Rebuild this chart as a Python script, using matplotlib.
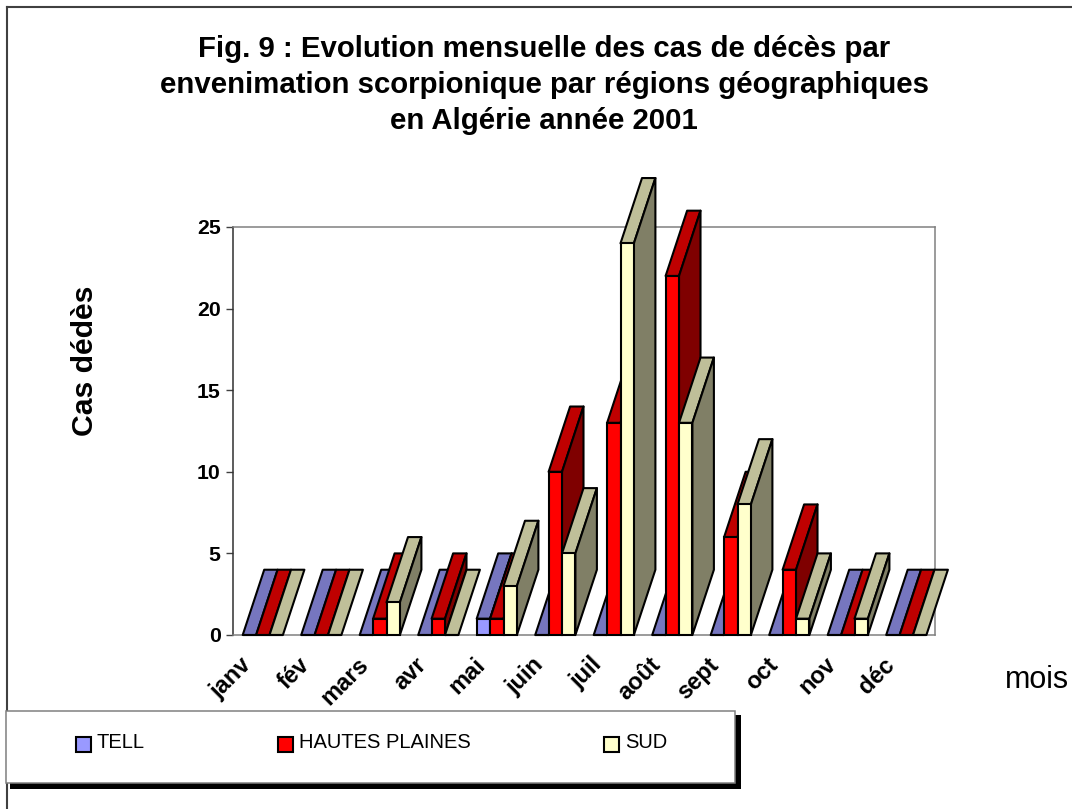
import matplotlib
matplotlib.use("Agg")
import matplotlib.pyplot as plt
from matplotlib.patches import Polygon, Rectangle
from matplotlib.legend_handler import HandlerPatch

months = ["janv", "fév", "mars", "avr", "mai", "juin", "juil", "août", "sept", "oct", "nov", "déc"]
tell = [0, 0, 0, 0, 1, 0, 0, 0, 0, 0, 0, 0]
hautes_plaines = [0, 0, 1, 1, 1, 10, 13, 22, 6, 4, 0, 0]
sud = [0, 0, 2, 0, 3, 5, 24, 13, 8, 1, 1, 0]
series_names = ["TELL", "HAUTES PLAINES", "SUD"]
yticks = [0, 5, 10, 15, 20, 25]

W, H = 1072, 809
plt.rcParams['font.family'] = ['Liberation Sans', 'DejaVu Sans']
fig = plt.figure(figsize=(W / 100, H / 100), dpi=100, facecolor='white')


def fx(p):
    return p / W


def fy(p):
    return 1 - p / H


# chart outer frame (only top and left are inside the picture)
fig.add_artist(plt.Line2D([fx(6.5), 1], [fy(6.5), fy(6.5)], color='#404040', lw=1.5))
fig.add_artist(plt.Line2D([fx(6.5), fx(6.5)], [fy(6.5), 0], color='#404040', lw=1.5))

L, R, T, B = 233, 935, 227, 635
ax = fig.add_axes([fx(L), fy(B), fx(R - L), (B - T) / H])
ax.set_xlim(0, 12)
ax.set_ylim(0, 25)
ax.patch.set_alpha(0)
for s in ['top', 'right', 'bottom']:
    ax.spines[s].set_color('#808080')
    ax.spines[s].set_linewidth(1.1)
ax.spines['left'].set_color('#303030')
ax.spines['left'].set_linewidth(1.1)

offset = 0.166
bw = 0.229
depth_x = 21.5 / 58.5
depth_y = 4.0
colors = [('#9999FF', '#7676BF', '#4C4C80'),
          ('#FF0000', '#BF0000', '#7F0000'),
          ('#FFFFCC', '#BFBF99', '#807F66')]
lw = 1.5
z = 3
for i in range(len(months)):
    for j, vals in enumerate([tell, hautes_plaines, sud]):
        v = vals[i]
        x0 = i + offset + j * bw
        x1 = x0 + bw
        front, top, side = colors[j]
        ax.add_patch(Polygon([(x0, v), (x1, v), (x1 + depth_x, v + depth_y), (x0 + depth_x, v + depth_y)],
                             closed=True, facecolor=top, edgecolor='black', lw=lw, zorder=z,
                             clip_on=False, joinstyle='round'))
        if v > 0:
            ax.add_patch(Polygon([(x1, 0), (x1 + depth_x, depth_y), (x1 + depth_x, v + depth_y), (x1, v)],
                                 closed=True, facecolor=side, edgecolor='black', lw=lw, zorder=z,
                                 clip_on=False, joinstyle='round'))
        ax.bar(x0, v, width=bw, align='edge', color=front, edgecolor='black', linewidth=lw,
               zorder=z + 0.5, clip_on=False)
        z += 1

ax.set_yticks(yticks)
ax.set_yticklabels([str(t) for t in yticks], fontsize=15.3, fontweight='bold')
ax.tick_params(axis='y', length=5, width=1, color='#404040', pad=4)
ax.set_xticks([i + 0.11 for i in range(len(months))])
ax.set_xticklabels(months, rotation=45, ha='right', va='top', rotation_mode='anchor',
                   fontsize=17, fontweight='bold')
ax.tick_params(axis='x', length=0, pad=13)

title_lines = ["Fig. 9 : Evolution mensuelle des cas de décès par",
               "envenimation scorpionique par régions géographiques",
               "en Algérie année 2001"]
for line, yb in zip(title_lines, [57, 93, 129]):
    fig.text(fx(544), fy(yb), line, ha='center', va='baseline', fontsize=21.2, fontweight='bold')

fig.text(fx(85), fy(361), "Cas dédès", rotation=90, ha='center', va='center', fontsize=21.7, fontweight='bold')
fig.text(fx(1037), fy(680), "mois", ha='center', va='center', fontsize=22)

# legend box with hard shadow
fig.add_artist(Rectangle((fx(10), fy(789)), fx(731), (789 - 715) / H, facecolor='black',
                         edgecolor='none', transform=fig.transFigure, zorder=5))
fig.add_artist(Rectangle((fx(6), fy(782.5)), fx(729), (782.5 - 711) / H, facecolor='white',
                         edgecolor='#808080', lw=1.1, transform=fig.transFigure, zorder=6))


def low_swatch(legend, orig_handle, xdescent, ydescent, width, height, fontsize):
    return Rectangle((-xdescent, -ydescent - 2.2), width, height)


handles = [Rectangle((0, 0), 1, 1, facecolor=c[0], edgecolor='black', lw=1.5) for c in colors]
leg = fig.legend(handles, series_names, ncol=3, frameon=False, fontsize=14.5,
                 loc='center left', bbox_to_anchor=(fx(75.7), fy(743)),
                 handlelength=0.75, handleheight=0.75, handletextpad=0.3,
                 columnspacing=6.6, borderpad=0, borderaxespad=0,
                 handler_map={Rectangle: HandlerPatch(patch_func=low_swatch)})
leg.set_zorder(7)

fig.savefig("out.png", dpi=100)
